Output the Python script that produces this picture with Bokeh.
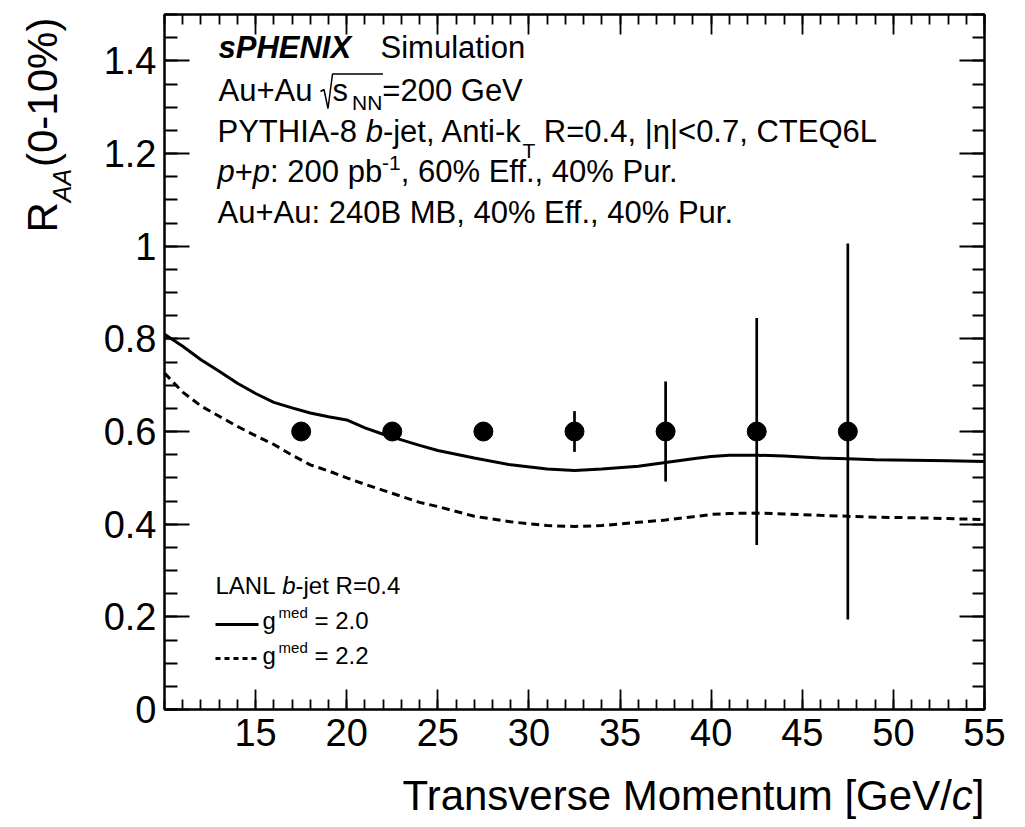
import math
from bokeh.plotting import figure
from bokeh.models import (Range1d, LinearAxis, FixedTicker, Label, GridBox,
                          CustomLabelingPolicy)
from bokeh.embed import file_html
from bokeh.resources import INLINE

# ---- projected b-jet R_AA points ----
pt_bins = [17.5, 22.5, 27.5, 32.5, 37.5, 42.5, 47.5]
raa = [0.6, 0.6, 0.6, 0.6, 0.6, 0.6, 0.6]
raa_err = [0.005, 0.009, 0.019, 0.044, 0.108, 0.245, 0.406]

# ---- LANL b-jet R=0.4 calculations ----
curve_pt = [10, 11, 12, 13, 14, 15, 16, 17, 18, 19, 20, 21, 22, 23, 24, 25, 27, 29,
            31, 32.5, 34, 36, 37.5, 39, 40, 41, 42.5, 44, 46, 47.5, 49, 51, 53, 55]
raa_g20 = [0.810, 0.784, 0.755, 0.730, 0.704, 0.682, 0.663, 0.651, 0.640, 0.632,
           0.625, 0.608, 0.594, 0.582, 0.570, 0.559, 0.543, 0.528, 0.519, 0.516,
           0.519, 0.525, 0.533, 0.541, 0.546, 0.549, 0.549, 0.547, 0.543, 0.541,
           0.539, 0.538, 0.537, 0.535]
raa_g22 = [0.726, 0.685, 0.655, 0.633, 0.611, 0.591, 0.572, 0.549, 0.528, 0.515,
           0.500, 0.486, 0.473, 0.460, 0.447, 0.438, 0.417, 0.405, 0.397, 0.395,
           0.397, 0.404, 0.409, 0.416, 0.421, 0.423, 0.424, 0.422, 0.419, 0.417,
           0.415, 0.414, 0.412, 0.410]

# ---- axes ----
x_ticks = [15, 20, 25, 30, 35, 40, 45, 50, 55]
x_minor = list(range(10, 56))
y_ticks = [0, 0.2, 0.4, 0.6, 0.8, 1.0, 1.2, 1.4]
y_tick_labels = ["0", "0.2", "0.4", "0.6", "0.8", "1", "1.2", "1.4"]
y_minor = [round(0.05 * i, 2) for i in range(31)]

W, H = 1025, 827
FL, FR, FT, FB = 164, 984, 14, 709
X0, X1, Y0, Y1 = 10, 55, 0, 1.5
FONT = "Liberation Sans"

p = figure(width=W, height=H, output_backend="svg", toolbar_location=None, title=None,
           x_range=Range1d(X0, X1), y_range=Range1d(Y0, Y1),
           min_border_left=FL, min_border_right=W - FR,
           min_border_top=FT, min_border_bottom=H - FB,
           x_axis_location=None, y_axis_location=None)
p.grid.visible = False
p.outline_line_color = "black"
p.outline_line_width = 2
p.background_fill_color = "white"
p.border_fill_color = "white"
p.frame_align = False


def make_axis(ticks, minor, tick_in, minor_in, size=None, standoff=0, overrides=None):
    ax = LinearAxis(ticker=FixedTicker(ticks=ticks, minor_ticks=minor))
    ax.major_tick_in = tick_in
    ax.major_tick_out = 0
    ax.minor_tick_in = minor_in
    ax.minor_tick_out = 0
    ax.axis_line_color = "black"
    ax.axis_line_width = 2
    ax.major_tick_line_color = "black"
    ax.minor_tick_line_color = "black"
    ax.major_tick_line_width = 1.8
    ax.minor_tick_line_width = 1.8
    ax.major_label_standoff = standoff
    ax.major_label_text_font = FONT
    ax.major_label_text_color = "black"
    if size is None:
        # tick marks only on the mirrored sides
        ax.major_label_text_font_size = "0px"
        ax.major_label_policy = CustomLabelingPolicy(code="return []")
    else:
        ax.major_label_text_font_size = size
    if overrides:
        ax.major_label_overrides = overrides
    return ax


p.add_layout(make_axis(x_ticks, x_minor, 20, 10, "38px", 9), "below")
p.add_layout(make_axis(x_ticks, x_minor, 20, 10), "above")
p.add_layout(make_axis(y_ticks, y_minor, 25, 13, "38px", 8,
                       dict(zip(y_ticks, y_tick_labels))), "left")
p.add_layout(make_axis(y_ticks, y_minor, 25, 12), "right")

# ---- curves, error bars, markers ----
p.line(curve_pt, raa_g20, line_color="black", line_width=3)
p.line(curve_pt, raa_g22, line_color="black", line_width=3, line_dash="8 5")
lo = [v - e for v, e in zip(raa, raa_err)]
hi = [v + e for v, e in zip(raa, raa_err)]
p.segment(x0=pt_bins, y0=lo, x1=pt_bins, y1=hi, line_color="black", line_width=2.7)
p.scatter(pt_bins, raa, size=19, color="black")

# ---- transparent text layer spanning the whole canvas (pixel coordinates) ----
ov = figure(width=W, height=H, output_backend="svg", toolbar_location=None, title=None,
            x_range=Range1d(0, W), y_range=Range1d(0, H), min_border=0,
            x_axis_location=None, y_axis_location=None)
ov.grid.visible = False
ov.outline_line_color = None
ov.background_fill_alpha = 0
ov.border_fill_alpha = 0
ov.frame_align = False

ADV = {' ': 278, '%': 889, '(': 333, ')': 333, '+': 584, ',': 278, '-': 333, '.': 278,
       '/': 278, ':': 278, '<': 584, '=': 584, '|': 260, '[': 278, ']': 278,
       'A': 667, 'B': 667, 'C': 722, 'E': 667, 'F': 611, 'G': 778, 'H': 722, 'I': 278,
       'L': 556, 'M': 833, 'N': 722, 'P': 667, 'Q': 778, 'R': 722, 'S': 667, 'T': 611,
       'V': 667, 'X': 667, 'Y': 667, 'a': 556, 'b': 556, 'c': 500, 'd': 556, 'e': 556,
       'f': 278, 'g': 556, 'i': 222, 'j': 222, 'k': 500, 'l': 222, 'm': 833, 'n': 556,
       'o': 556, 'p': 556, 'r': 333, 's': 500, 't': 278, 'u': 556, 'v': 500, 'η': 556}
ADV_BOLD = {'s': 556}
BASE_SHIFT = 0.36  # label anchor vs. glyph baseline, as a fraction of font size


def advance(text, size, style="normal"):
    total = 0
    for ch in text:
        if "bold" in style and ch in ADV_BOLD:
            total += ADV_BOLD[ch]
        else:
            total += ADV.get(ch, 556)
    return total * size / 1000.0


def put(text, px, py, size, style="normal", align="left", angle=0.0):
    # (px, py): start of the glyph baseline in canvas pixels, y measured downwards
    s = BASE_SHIFT * size
    if angle:
        ax_, ay_ = px - s, py
    else:
        ax_, ay_ = px, py - s
    ov.add_layout(Label(x=ax_, y=H - ay_, text=text, text_font=FONT,
                        text_font_size=f"{size}px", text_font_style=style,
                        text_align=align, text_baseline="alphabetic",
                        angle=angle, text_color="black"))


def run(px, py, parts):
    for text, size, style, shift in parts:
        body = text.lstrip(" ")
        px += advance(text[:len(text) - len(body)], size, style)
        if body:
            put(body, px, py + shift, size, style)
        px += advance(body, size, style)
    return px


def stroke(pts, width, dash="solid"):
    ov.line([a for a, _ in pts], [H - b for _, b in pts],
            line_color="black", line_width=width, line_dash=dash)


# header block
put("sPHENIX", 218, 58, 31, "bold italic")
put("Simulation", 380, 58, 31)

run(218, 101.5, [("Au+Au", 31, "normal", 0)])
stroke([(320, 91), (323.5, 89), (327.5, 108), (332, 73.5), (382.5, 73.5)], 1.5)
run(332, 101.5, [("s", 31, "normal", 0)])
run(351.5, 101.5, [("NN", 21, "normal", 8.5), ("=200 GeV", 31, "normal", 0)])

run(217, 142, [("PYTHIA-8 ", 31, "normal", 0), ("b", 31, "italic", 0),
               ("-jet, Anti-k", 31, "normal", 0), ("T", 21, "normal", 16),
               (" R=0.4, |η|<0.7, CTEQ6L", 31, "normal", 0)])

run(217, 182.5, [("p", 31, "italic", 0), ("+", 31, "normal", 0), ("p", 31, "italic", 0),
                 (": 200 pb", 31, "normal", 0), ("-1", 21, "normal", -12),
                 (", 60% Eff., 40% Pur.", 31, "normal", 0)])

run(217, 223, [("Au+Au: 240B MB, 40% Eff., 40% Pur.", 31, "normal", 0)])

# legend
run(215, 593.5, [("LANL ", 24, "normal", 0), ("b", 24, "italic", 0),
                 ("-jet R=0.4", 24, "normal", 0)])
stroke([(215, 624), (258, 624)], 3)
run(262, 628.5, [("g", 24, "normal", 0), (" ", 10, "normal", 0),
                 ("med", 15, "normal", -11), (" = 2.0", 24, "normal", 0)])
stroke([(215, 658), (258, 658)], 3, "5 4")
run(262, 663.5, [("g", 24, "normal", 0), (" ", 10, "normal", 0),
                 ("med", 15, "normal", -11), (" = 2.2", 24, "normal", 0)])

# axis titles
xr = FR - advance("]", 42)
put("]", xr, 810, 42)
xr -= advance("c", 42, "italic")
put("c", xr, 810, 42, "italic")
put("Transverse Momentum [GeV/", xr, 810, 42, align="right")

up = math.pi / 2
put("R", 57, 232, 42, angle=up)
put("AA", 70, 232 - advance("R", 42), 25, "italic", angle=up)
put("(0-10%)", 57, 166.5, 42, angle=up)

layout = GridBox(children=[(p, 0, 0), (ov, 0, 0)])
open("out.html", "w").write(file_html(layout, INLINE))
